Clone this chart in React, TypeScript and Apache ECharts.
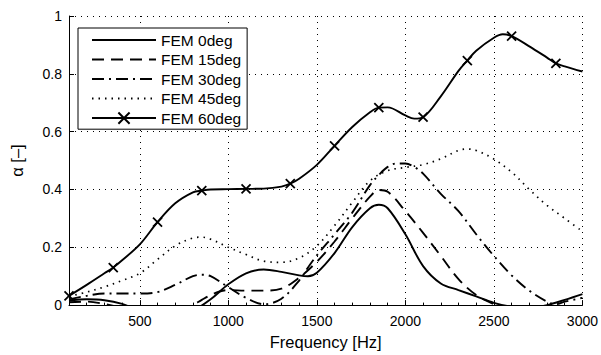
import React, { useEffect, useRef } from "react";
import * as echarts from "echarts";

const SERIES_NAMES = ["FEM 0deg", "FEM 15deg", "FEM 30deg", "FEM 45deg", "FEM 60deg"];
const X_TICKS = [500, 1000, 1500, 2000, 2500, 3000];
const MARKER_FREQS = [100, 350, 600, 850, 1100, 1350, 1600, 1850, 2100, 2350, 2600, 2850];

const F0 = [100, 200, 300, 400, 500, 600, 700, 800, 900, 1000, 1100, 1200, 1300, 1400, 1450, 1500, 1600, 1700, 1800, 1850, 1900, 2000, 2100, 2200, 2300, 2400, 2500, 2600, 2700, 2800, 2900, 3000];
const A0 = [0.015, 0.02, 0.017, 0.004, -0.02, -0.04, -0.045, -0.02, 0.02, 0.072, 0.11, 0.123, 0.115, 0.103, 0.1, 0.112, 0.18, 0.27, 0.335, 0.347, 0.335, 0.245, 0.135, 0.075, 0.052, 0.03, 0.008, -0.006, -0.01, 0.0, 0.018, 0.038];

const F15 = [100, 200, 300, 400, 500, 600, 700, 800, 850, 900, 950, 1000, 1100, 1200, 1300, 1400, 1500, 1600, 1700, 1800, 1850, 1900, 2000, 2100, 2200, 2300, 2400, 2500, 2600, 2700, 2800, 2900, 3000];
const A15 = [0.01, 0.012, 0.004, -0.01, -0.03, -0.04, -0.03, 0.0, 0.018, 0.035, 0.047, 0.052, 0.05, 0.05, 0.057, 0.095, 0.15, 0.22, 0.3, 0.375, 0.398, 0.392, 0.325, 0.25, 0.17, 0.09, 0.035, 0.003, -0.02, -0.03, -0.02, -0.01, -0.005];

const F30 = [100, 200, 300, 400, 500, 600, 700, 800, 850, 900, 1000, 1100, 1200, 1300, 1400, 1450, 1500, 1600, 1700, 1800, 1850, 1900, 1950, 2000, 2050, 2100, 2200, 2300, 2400, 2500, 2600, 2700, 2800, 2850, 2900, 3000];
const A30 = [0.02, 0.032, 0.04, 0.04, 0.04, 0.045, 0.07, 0.1, 0.105, 0.1, 0.062, 0.025, 0.003, 0.022, 0.085, 0.13, 0.172, 0.245, 0.32, 0.415, 0.45, 0.478, 0.49, 0.49, 0.478, 0.455, 0.385, 0.325, 0.245, 0.17, 0.103, 0.05, 0.012, 0.003, 0.012, 0.025];

const F45 = [100, 200, 300, 400, 500, 600, 700, 800, 850, 900, 1000, 1100, 1200, 1300, 1400, 1500, 1600, 1700, 1800, 1900, 2000, 2100, 2200, 2300, 2350, 2400, 2500, 2600, 2700, 2800, 2900, 3000];
const A45 = [0.03, 0.045, 0.063, 0.085, 0.11, 0.158, 0.205, 0.232, 0.235, 0.228, 0.2, 0.175, 0.152, 0.148, 0.163, 0.205, 0.275, 0.355, 0.43, 0.465, 0.476, 0.486, 0.506, 0.535, 0.54, 0.535, 0.505, 0.46, 0.4, 0.345, 0.3, 0.255];

const F60 = [100, 200, 300, 350, 400, 500, 600, 700, 800, 850, 900, 1000, 1100, 1200, 1300, 1350, 1400, 1500, 1600, 1700, 1800, 1850, 1900, 2000, 2050, 2100, 2200, 2300, 2350, 2400, 2500, 2550, 2600, 2700, 2800, 2850, 2900, 3000];
const A60 = [0.032, 0.07, 0.11, 0.13, 0.155, 0.21, 0.287, 0.352, 0.39, 0.396, 0.4, 0.401, 0.402, 0.403, 0.41, 0.42, 0.437, 0.485, 0.551, 0.616, 0.667, 0.683, 0.684, 0.656, 0.645, 0.65, 0.722, 0.81, 0.846, 0.88, 0.925, 0.937, 0.93, 0.895, 0.856, 0.836, 0.826, 0.808];

const FONT = "'Liberation Sans', Arial, Helvetica, sans-serif";

export default function App() {
  const ref = useRef<HTMLDivElement>(null);
  useEffect(() => {
    const chart = echarts.init(ref.current!, null, { renderer: "svg" });
    const pair = (f: number[], a: number[]) => f.map((x, i) => [x, a[i]]);
    const marks = new Set(MARKER_FREQS);
    const d60 = F60.map((f, i) =>
      marks.has(f) ? { value: [f, A60[i]] } : { value: [f, A60[i]], symbol: "none" }
    );
    const base = {
      type: "line",
      smooth: 0.35,
      showSymbol: false,
      symbol: "none",
      clip: true,
      z: 3,
    };
    const hidden = { color: "rgba(0,0,0,0)", borderWidth: 0, opacity: 0 };
    chart.setOption({
      animation: false,
      backgroundColor: "#fff",
      grid: { left: 68, right: 17, top: 16, bottom: 47 },
      legend: {
        orient: "vertical",
        left: 78,
        top: 28,
        itemWidth: 64,
        itemHeight: 14,
        itemGap: 3.5,
        padding: [4, 6, 3, 13],
        borderColor: "#000",
        borderWidth: 1,
        borderRadius: 0,
        backgroundColor: "#fff",
        textStyle: { fontFamily: FONT, fontSize: 15.5, lineHeight: 14, color: "#000" },
        data: [
          { name: SERIES_NAMES[0], itemStyle: hidden },
          { name: SERIES_NAMES[1], itemStyle: hidden },
          { name: SERIES_NAMES[2], itemStyle: hidden },
          { name: SERIES_NAMES[3], itemStyle: hidden },
          { name: SERIES_NAMES[4] },
        ],
        z: 10,
      },
      xAxis: [
        {
          type: "value",
          min: 100,
          max: 3000,
          interval: 100,
          axisLine: { lineStyle: { color: "#000", width: 1 } },
          axisTick: { inside: true, length: 5, customValues: X_TICKS, lineStyle: { color: "#000" } },
          axisLabel: {
            customValues: X_TICKS,
            formatter: (v: number) => String(v),
            color: "#000",
            fontFamily: FONT,
            fontSize: 14,
            margin: 9,
          },
          splitLine: { show: true, lineStyle: { color: "#000", type: [1, 5], width: 1 } },
          name: "Frequency [Hz]",
          nameLocation: "middle",
          nameGap: 27,
          nameTextStyle: { color: "#000", fontFamily: FONT, fontSize: 16.5 },
        },
        {
          type: "value",
          min: 100,
          max: 3000,
          interval: 100,
          position: "bottom",
          axisLine: { show: false },
          axisTick: { inside: true, length: 2.5, lineStyle: { color: "#000" } },
          axisLabel: { show: false },
          splitLine: { show: false },
        },
      ],
      yAxis: {
        type: "value",
        min: 0,
        max: 1,
        interval: 0.2,
        axisLine: { show: true, lineStyle: { color: "#000", width: 1 } },
        axisTick: { show: true, inside: true, length: 5, lineStyle: { color: "#000" } },
        axisLabel: { color: "#000", fontFamily: FONT, fontSize: 14, margin: 7 },
        splitLine: { show: true, lineStyle: { color: "#000", type: [1, 5], width: 1 } },
        name: "α [–]",
        nameLocation: "middle",
        nameGap: 44,
        nameTextStyle: { color: "#000", fontFamily: FONT, fontSize: 16.5 },
      },
      series: [
        { ...base, name: SERIES_NAMES[0], data: pair(F0, A0), lineStyle: { color: "#000", width: 1.9, type: "solid" }, itemStyle: { color: "#000" } },
        { ...base, name: SERIES_NAMES[1], data: pair(F15, A15), lineStyle: { color: "#000", width: 1.9, type: [12, 7] }, itemStyle: { color: "#000" } },
        { ...base, name: SERIES_NAMES[2], data: pair(F30, A30), lineStyle: { color: "#000", width: 1.9, type: [12, 5, 2, 5] }, itemStyle: { color: "#000" } },
        { ...base, name: SERIES_NAMES[3], data: pair(F45, A45), lineStyle: { color: "#000", width: 1.7, type: [1.5, 5] }, itemStyle: { color: "#000" } },
        {
          ...base,
          name: SERIES_NAMES[4],
          data: d60,
          showSymbol: true,
          symbol: "path://M0,0L10,10M10,0L0,10",
          symbolSize: 9,
          lineStyle: { color: "#000", width: 1.9, type: "solid" },
          itemStyle: { color: "none", borderColor: "#000", borderWidth: 1.8 },
        },
      ],
    });
    return () => chart.dispose();
  }, []);
  return (
    <div
      ref={ref}
      style={{ position: "fixed", left: 0, top: 0, width: 601, height: 355, background: "#fff" }}
    />
  );
}
